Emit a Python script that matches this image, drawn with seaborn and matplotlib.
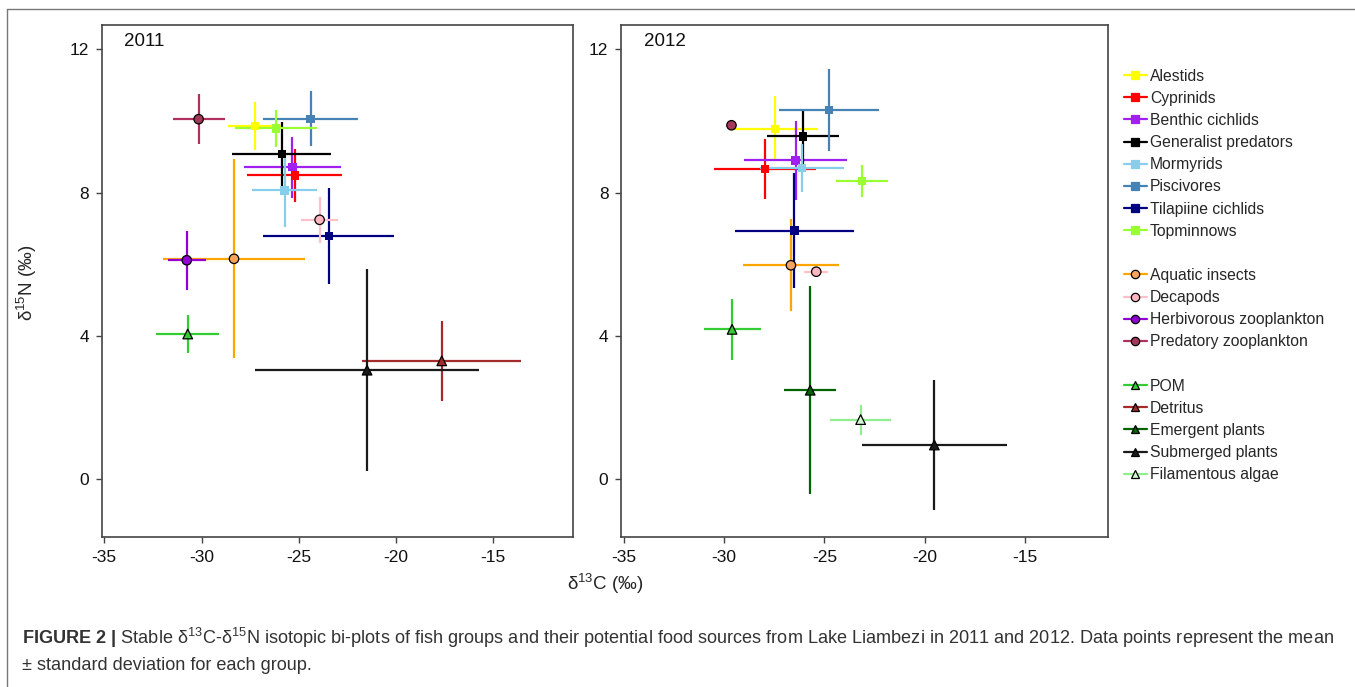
import numpy as np
import pandas as pd
import matplotlib.pyplot as plt
import seaborn as sns
from matplotlib.lines import Line2D

# =========================
# Data (mean +/- SD)
# =========================
groups = ["Alestids", "Cyprinids", "Benthic cichlids", "Generalist predators",
          "Mormyrids", "Piscivores", "Tilapiine cichlids", "Topminnows",
          "Aquatic insects", "Decapods", "Herbivorous zooplankton", "Predatory zooplankton",
          "POM", "Detritus", "Emergent plants", "Submerged plants", "Filamentous algae"]
kind = ["fish"] * 8 + ["invert"] * 4 + ["source"] * 5

nan = np.nan
c13_2011 = [-27.25, -25.21, -25.33, -25.88, -25.73, -24.39, -23.46, -26.17,
            -28.33, -23.93, -30.76, -30.15, -30.71, -17.65, nan, -21.49, nan]
c13sd_2011 = [1.39, 2.43, 2.49, 2.54, 1.67, 2.44, 3.36, 2.10,
              3.64, 0.94, 0.98, 1.34, 1.62, 4.09, nan, 5.78, nan]
n15_2011 = [9.86, 8.48, 8.71, 9.08, 8.06, 10.06, 6.79, 9.79,
            6.15, 7.24, 6.11, 10.05, 4.05, 3.30, nan, 3.04, nan]
n15sd_2011 = [0.67, 0.74, 0.85, 0.90, 1.03, 0.77, 1.33, 0.51,
              2.78, 0.64, 0.82, 0.69, 0.54, 1.12, nan, 2.82, nan]

c13_2012 = [-27.45, -27.96, -26.44, -26.07, -26.12, -24.78, -26.50, -23.14,
            -26.67, -25.41, nan, -29.63, -29.60, nan, -25.71, -19.53, -23.20]
c13sd_2012 = [2.13, 2.53, 2.58, 1.79, 2.11, 2.47, 2.95, 1.28,
              2.40, 0.60, nan, 0.0, 1.42, nan, 1.29, 3.60, 1.51]
n15_2012 = [9.78, 8.66, 8.90, 9.57, 8.69, 10.30, 6.94, 8.32,
            5.97, 5.79, nan, 9.88, 4.18, nan, 2.48, 0.95, 1.66]
n15sd_2012 = [0.91, 0.85, 1.11, 0.77, 0.68, 1.14, 1.61, 0.44,
              1.29, 0.10, nan, 0.0, 0.86, nan, 2.90, 1.81, 0.42]

line_colors = ["#FFFF00", "#FF0000", "#A020F0", "#000000", "#87CEEB", "#4682B4", "#000080", "#9AFF32",
               "#FFA500", "#FFC0CB", "#9400D3", "#B03060",
               "#32CD32", "#A52A2A", "#006400", "#1A1A1A", "#90EE90"]
fill_colors = ["#FFFF00", "#FF0000", "#A020F0", "#000000", "#87CEEB", "#4682B4", "#000080", "#9AFF32",
               "#F4A460", "#FFB6C1", "#9400D3", "#A3385A",
               "#32CD32", "#A52A2A", "#006400", "#1A1A1A", "#D2F7D2"]

marker_of = {"fish": "s", "invert": "o", "source": "^"}
size_of = {"fish": 36, "invert": 46, "source": 48}

df = pd.concat([
    pd.DataFrame({"group": groups, "kind": kind, "year": "2011",
                  "c13": c13_2011, "c13sd": c13sd_2011, "n15": n15_2011, "n15sd": n15sd_2011}),
    pd.DataFrame({"group": groups, "kind": kind, "year": "2012",
                  "c13": c13_2012, "c13sd": c13sd_2012, "n15": n15_2012, "n15sd": n15sd_2012}),
]).dropna(subset=["c13"])

lc = dict(zip(groups, line_colors))
fc = dict(zip(groups, fill_colors))

# =========================
# Style
# =========================
sns.set_style("ticks")
plt.rcParams["font.family"] = ["Liberation Sans", "DejaVu Sans"]
plt.rcParams["axes.unicode_minus"] = False
plt.rcParams["mathtext.fontset"] = "custom"
plt.rcParams["mathtext.rm"] = "Liberation Sans"
plt.rcParams["mathtext.bf"] = "Liberation Sans:bold"
plt.rcParams["mathtext.it"] = "Liberation Sans:italic"

fig = plt.figure(figsize=(13.55, 6.87), dpi=100)
ax1 = fig.add_axes([0.0751, 0.2183, 0.3478, 0.7453])
ax2 = fig.add_axes([0.4583, 0.2183, 0.3592, 0.7453])

for ax, year in [(ax1, "2011"), (ax2, "2012")]:
    d = df[df["year"] == year]
    for _, r in d.iterrows():
        ax.errorbar(r["c13"], r["n15"], xerr=r["c13sd"], yerr=r["n15sd"], fmt="none",
                    ecolor=lc[r["group"]], elinewidth=1.6, capsize=0, zorder=2)
    for k in ["fish", "invert", "source"]:
        sub = d[d["kind"] == k]
        if k == "fish":
            edge = dict(linewidth=0)
        else:
            edge = dict(edgecolor="black", linewidth=0.9)
        sns.scatterplot(data=sub, x="c13", y="n15", hue="group", palette=fc,
                        marker=marker_of[k], s=size_of[k], legend=False, ax=ax,
                        zorder=4, **edge)
    ax.set_xlim(-35.13, -10.9)
    ax.set_ylim(-1.62, 12.68)
    ax.set_xticks([-35, -30, -25, -20, -15])
    ax.set_yticks([0, 4, 8, 12])
    ax.set_xlabel("")
    ax.set_ylabel("")
    for s in ax.spines.values():
        s.set_color("#444444")
        s.set_linewidth(1.2)
    ax.tick_params(direction="out", length=4, width=1, color="#444444",
                   labelsize=12.5, labelcolor="#111111", pad=5)
    ax.text(0.048, 0.967, year, transform=ax.transAxes, fontsize=13.5,
            ha="left", va="center", color="#111111")

fig.text(0.4465, 0.150, r"δ$^{13}$C (‰)", ha="center", va="center", fontsize=13.5)
fig.text(0.0199, 0.588, r"δ$^{15}$N (‰)", ha="center", va="center", rotation=90, fontsize=13.5)

# =========================
# Legend
# =========================
handles, labels = [], []
for i, g in enumerate(groups):
    if i in (8, 12):
        handles.append(Line2D([], [], linestyle="none"))
        labels.append(" ")
    k = kind[i]
    handles.append(Line2D([], [], color=lc[g], lw=1.6, marker=marker_of[k], markersize=6,
                          markerfacecolor=fc[g],
                          markeredgecolor=fc[g] if k == "fish" else "black",
                          markeredgewidth=0.9))
    labels.append(g)
fig.legend(handles, labels, loc="upper left", bbox_to_anchor=(0.8295, 0.9),
           frameon=False, fontsize=11.3, handlelength=1.45, handletextpad=0.2,
           labelspacing=0.455, borderpad=0, borderaxespad=0)

# =========================
# Caption and frame
# =========================
fig.text(22 / 1355, 1 - 638 / 687,
         r"$\mathbf{FIGURE\ 2\ |}$ Stable δ$^{13}$C-δ$^{15}$N isotopic bi-plots of fish groups and their "
         "potential food sources from Lake Liambezi in 2011 and 2012. Data points represent the mean",
         ha="left", va="center", fontsize=13.1, color="#333333")
fig.text(22 / 1355, 1 - 665 / 687, "± standard deviation for each group.",
         ha="left", va="center", fontsize=13.1, color="#333333")

x0 = 7 / 1355
y0 = 1 - 8.7 / 687
fig.add_artist(Line2D([x0, x0], [0, y0], transform=fig.transFigure, color="#777777", lw=1))
fig.add_artist(Line2D([x0, 1], [y0, y0], transform=fig.transFigure, color="#777777", lw=1))

fig.savefig("out.png", dpi=100)
